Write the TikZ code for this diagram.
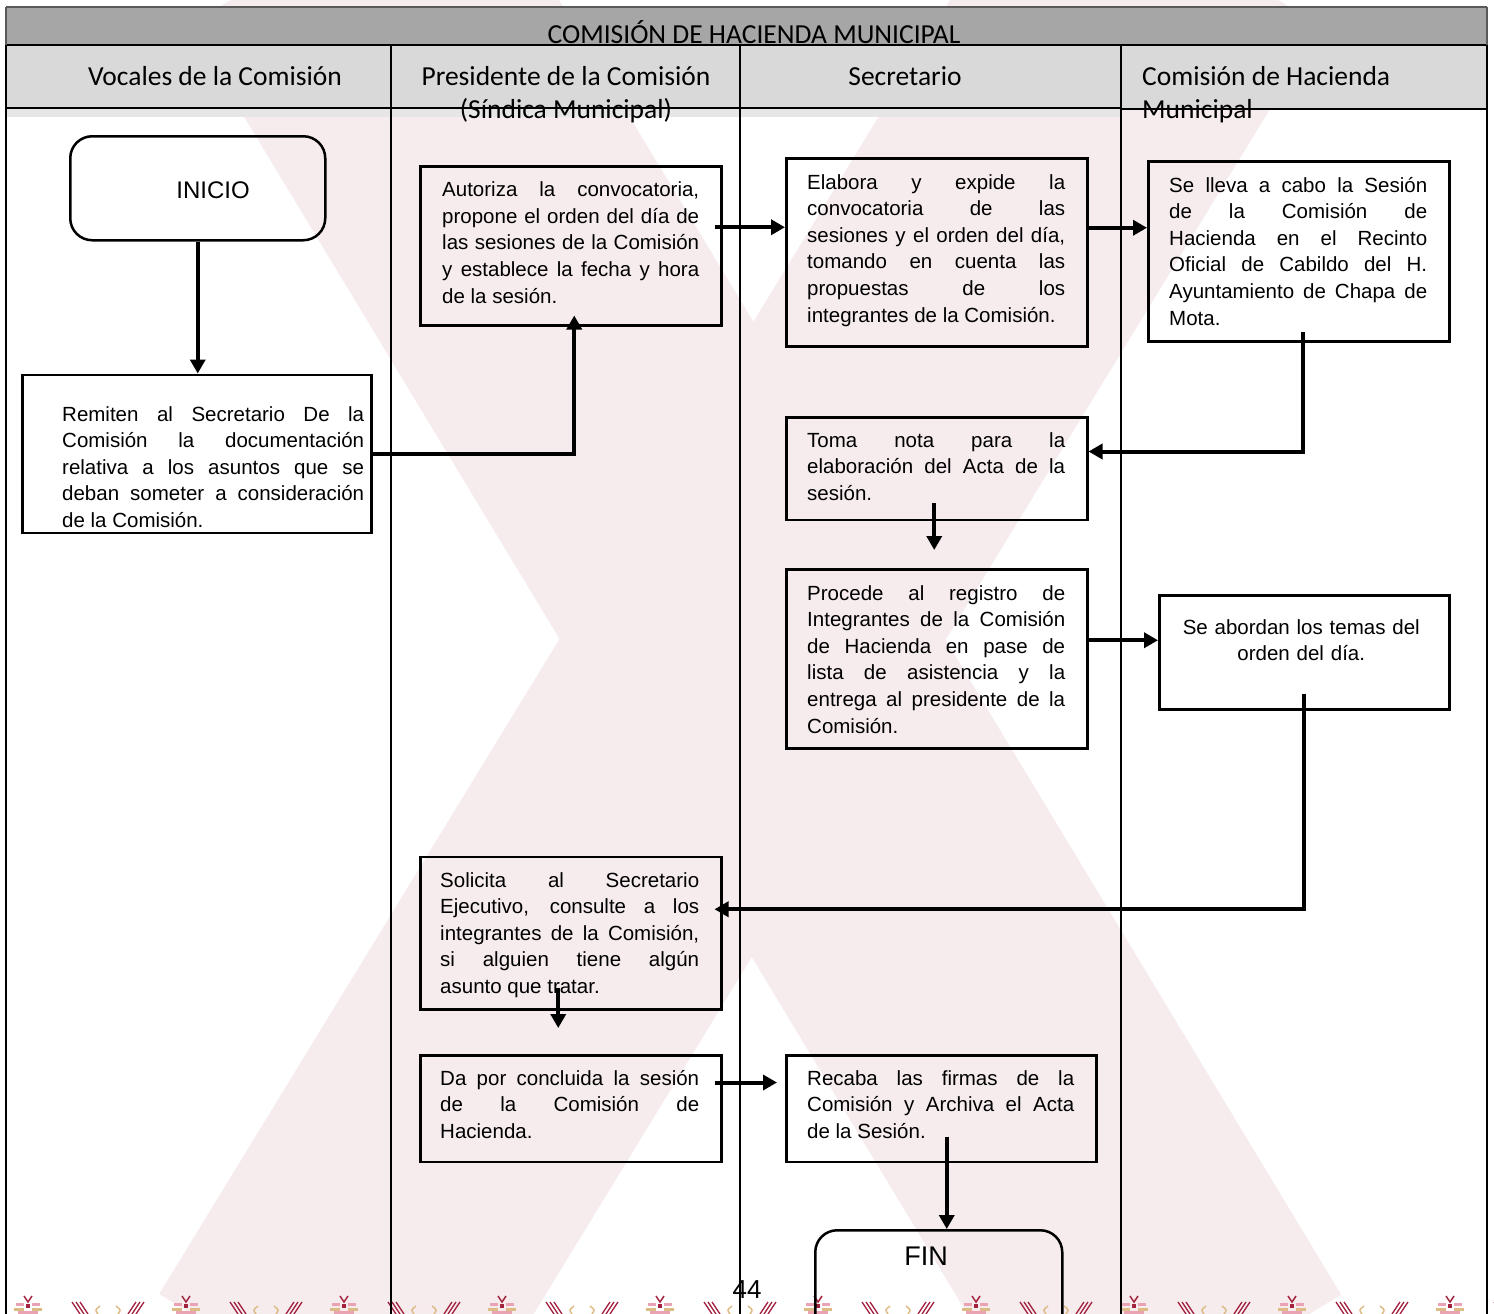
\documentclass[tikz,border=0pt]{standalone}
\usepackage{fontspec}
\setmainfont{Liberation Sans}
\newfontfamily\hdrfont{Carlito}
\usetikzlibrary{arrows.meta,calc}

\definecolor{bandgray}{HTML}{A6A6A6}
\definecolor{rowgray}{HTML}{D9D9D9}
\definecolor{stripgray}{HTML}{E6E6E6}
\definecolor{wmpink}{RGB}{246,236,238}
\definecolor{motifred}{HTML}{A3233F}
\definecolor{motifpink}{HTML}{E9A3B3}
\definecolor{motiftan}{HTML}{DDBB85}

\tikzset{
  procbox/.style={draw=black, line width=2.5pt, anchor=north west, inner sep=0pt},
  termbox/.style={procbox, rounded corners=22pt},
  bodytxt/.style={anchor=base west, inner sep=0pt, font=\fontsize{20.5}{26.6}\selectfont,
    align=justify, text width=#1,
    execute at begin node={\tolerance=10000\hbadness=10000\emergencystretch=0pt\hyphenpenalty=10000}},
  flow/.style={line width=4pt, -{Triangle[length=14pt,width=15pt]}},
  lane/.style={line width=1.5pt},
  hdr/.style={font=\hdrfont\fontsize{27.5}{33}\selectfont, inner sep=0pt, text=black},
}
% forced break that keeps the line justified
\newcommand\nl{\linebreak}

\begin{document}
\begin{tikzpicture}[x=1pt,y=-1pt]
\useasboundingbox (0,0) rectangle (1494,1314);
\clip (0,0) rectangle (1494,1314);

% faint watermark in the background
\draw[wmpink, line width=330pt] (330,-60) -- (1200,1380);
\draw[wmpink, line width=330pt] (1180,-60) -- (300,1380);

% ornamental border along the bottom
\foreach \i in {0,...,9}{
  \begin{scope}[shift={(28+158*\i,0)}]
    \fill[motifred] (-2,1304) rectangle (2,1308);
    \fill[motifpink] (-12,1303) rectangle (-4,1306);
    \fill[motifpink] (4,1303) rectangle (12,1306);
    \fill[motiftan] (-14,1308) rectangle (-4,1311);
    \fill[motiftan] (4,1308) rectangle (14,1311);
    \draw[motifred, line width=1.5pt] (-4,1296) -- (0,1302) -- (4,1296);
    \fill[motifpink] (-10,1311) rectangle (10,1314);
    \foreach \d in {0,4,8}{\draw[motifred, line width=1.3pt] (44+\d,1302) -- (52+\d,1314);}
    \foreach \d in {0,4,8}{\draw[motifred, line width=1.3pt] (116-\d,1302) -- (108-\d,1314);}
    \draw[motiftan, line width=1.5pt] (72,1306) .. controls (67,1310) .. (70,1314);
    \draw[motiftan, line width=1.5pt] (88,1306) .. controls (93,1310) .. (90,1314);
  \end{scope}}

% header bands
\fill[bandgray] (6,7) rectangle (1487,45);
\draw[line width=2pt, black!65] (6,7) -- (1487,7);
\fill[rowgray] (6,45) rectangle (1487,108);
\fill[stripgray] (6,108) rectangle (1121,117);
\draw[lane] (6,45) -- (1487,45);
\draw[lane] (6,108) -- (1121,108);
\draw[line width=2.5pt] (1121,109) -- (1487,109);

% swimlane borders
\draw[line width=2pt, black!65] (6,7) -- (6,45);
\draw[line width=2pt, black!65] (1487,7) -- (1487,45);
\draw[line width=2.5pt] (6,45) -- (6,1314);
\draw[line width=2.5pt] (1487,45) -- (1487,1314);
\draw[lane] (391,45) -- (391,1314);
\draw[lane] (740,45) -- (740,1314);
\draw[lane] (1121,45) -- (1121,1314);

% header texts
\node[hdr, anchor=base] (ttl) at (754,44) {COMISIÓN DE HACIENDA MUNICIPAL};
\node[hdr, anchor=base] (lane1) at (215,85) {Vocales de la Comisión};
\node[hdr, anchor=base] (lane2) at (566,85) {Presidente de la Comisión};
\node[hdr, anchor=base] (lane2b) at (566,118) {(Síndica Municipal)};
\node[hdr, anchor=base] (lane3) at (905,85) {Secretario};
\node[hdr, anchor=base west] (lane4) at (1142,85) {Comisión de Hacienda};
\node[hdr, anchor=base west] (lane4b) at (1142,118) {Municipal};

% process boxes
\node[termbox, minimum width=255pt, minimum height=104pt] (ini) at (69,135) {};
\node[procbox, minimum width=349pt, minimum height=158pt] (rem) at (21,373.5) {};
\node[procbox, minimum width=301pt, minimum height=159pt] (aut) at (419,165) {};
\node[procbox, minimum width=301pt, minimum height=188pt] (ela) at (785,157) {};
\node[procbox, minimum width=301pt, minimum height=180pt] (sel) at (1147,160) {};
\node[procbox, minimum width=301pt, minimum height=102.5pt] (tom) at (785,416) {};
\node[procbox, minimum width=301pt, minimum height=179pt] (pro) at (785,568) {};
\node[procbox, minimum width=290pt, minimum height=114pt] (sab) at (1158,594) {};
\node[procbox, minimum width=301pt, minimum height=152.5pt] (sol) at (419,855.5) {};
\node[procbox, minimum width=301pt, minimum height=106.5pt] (dap) at (419,1054) {};
\node[procbox, minimum width=310pt, minimum height=106.5pt] (rec) at (785,1054) {};
\node[termbox, minimum width=247pt, minimum height=140pt] (fin) at (814,1229) {};

% box texts
\node[font=\fontsize{24}{28}\selectfont, inner sep=0pt] (init) at (213,190) {INICIO};
\node[font=\fontsize{27}{30}\selectfont, inner sep=0pt] (fint) at (926,1256) {FIN};

\node[bodytxt=302pt] (remt) at ($(rem.north west)+(41,47.5)$) {%
Remiten al Secretario De la\nl
Comisión la documentación\nl
relativa a los asuntos que se\nl
deban someter a consideración\nl
de la Comisión.};

\node[bodytxt=257pt] (autt) at ($(aut.north west)+(23,31.7)$) {%
Autoriza la convocatoria,\nl
propone el orden del día de\nl
las sesiones de la Comisión\nl
y establece la fecha y hora\nl
de la sesión.};

\node[bodytxt=258pt] (elat) at ($(ela.north west)+(22,32)$) {%
Elabora y expide la\nl
convocatoria de las\nl
sesiones y el orden del día,\nl
tomando en cuenta las\nl
propuestas de los\nl
integrantes de la Comisión.};

\node[bodytxt=258pt] (selt) at ($(sel.north west)+(22,32)$) {%
Se lleva a cabo la Sesión\nl
de la Comisión de\nl
Hacienda en el Recinto\nl
Oficial de Cabildo del H.\nl
Ayuntamiento de Chapa de\nl
Mota.};

\node[bodytxt=258pt] (tomt) at ($(tom.north west)+(22,31)$) {%
Toma nota para la\nl
elaboración del Acta de la\nl
sesión.};

\node[bodytxt=258pt] (prot) at ($(pro.north west)+(22,32)$) {%
Procede al registro de\nl
Integrantes de la Comisión\nl
de Hacienda en pase de\nl
lista de asistencia y la\nl
entrega al presidente de la\nl
Comisión.};

\node[bodytxt=270pt, align=center, anchor=base] (sabt) at ($(sab.north)+(-3,40)$) {%
Se abordan los temas del\\orden del día.};

\node[bodytxt=259pt] (solt) at ($(sol.north west)+(21,31.5)$) {%
Solicita al Secretario\nl
Ejecutivo, consulte a los\nl
integrantes de la Comisión,\nl
si alguien tiene algún\nl
asunto que tratar.};

\node[bodytxt=259pt] (dapt) at ($(dap.north west)+(21,31)$) {%
Da por concluida la sesión\nl
de la Comisión de\nl
Hacienda.};

\node[bodytxt=267pt] (rect) at ($(rec.north west)+(22,31)$) {%
Recaba las firmas de la\nl
Comisión y Archiva el Acta\nl
de la Sesión.};

% connectors
\draw[flow] (ini.south) -- (ini.south |- rem.north);
\draw[flow] (rem.east) -| ([xshift=3.5pt,yshift=11pt]aut.south);

\coordinate (c1) at ([xshift=-8pt,yshift=18.5pt]aut.east);
\draw[flow] (c1) -- (c1 -| ela.west);

\coordinate (c2) at ([yshift=24.5pt]ela.east);
\draw[flow] (c2) -- (c2 -| sel.west);

\draw[flow] ([xshift=4pt,yshift=11pt]sel.south) |- ([yshift=17pt]tom.east);

\draw[flow] ([xshift=-2.5pt,yshift=18pt]tom.south) -- ([xshift=-2.5pt,yshift=18pt]pro.north);

\coordinate (c3) at ([yshift=18.5pt]pro.east);
\draw[flow] (c3) -- (c3 -| sab.west);

\draw[flow] ([yshift=17pt]sab.south) |- ([xshift=-8pt,yshift=23.75pt]sol.east);

\coordinate (c4) at ([xshift=-12.5pt,yshift=23pt]sol.south);
\coordinate (c4e) at (c4 |- dap.north);
\draw[flow] (c4) -- ([yshift=26pt]c4e);

\coordinate (c5) at ([xshift=-8pt,yshift=26pt]dap.east);
\coordinate (c5e) at (c5 -| rec.west);
\draw[flow] (c5) -- ([xshift=-8pt]c5e);

\coordinate (c6) at ([xshift=5.5pt,yshift=26.5pt]rec.south);
\coordinate (c6e) at (c6 |- fin.north);
\draw[flow] (c6) -- (c6e);

% page number
\node[font=\fontsize{26}{30}\selectfont, inner sep=0pt] (pagenum) at (747,1290) {44};
\end{tikzpicture}
\end{document}
